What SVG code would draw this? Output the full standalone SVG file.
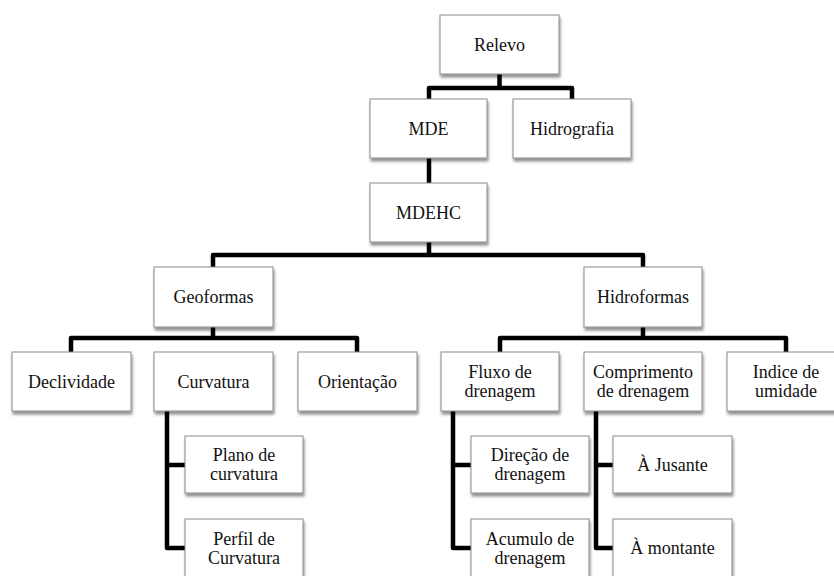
<svg xmlns="http://www.w3.org/2000/svg" width="834" height="576" viewBox="0 0 834 576">
<defs>
<filter id="sh" x="-10%" y="-10%" width="130%" height="140%">
<feGaussianBlur in="SourceAlpha" stdDeviation="1.5"/>
<feOffset dx="1" dy="2.5" result="b"/>
<feComponentTransfer><feFuncA type="linear" slope="0.45"/></feComponentTransfer>
<feMerge><feMergeNode/><feMergeNode in="SourceGraphic"/></feMerge>
</filter>
</defs>
<style>
.box{fill:#fff;stroke:#8a8a8a;stroke-width:1;filter:url(#sh)}
.t{font-family:"Liberation Serif","Times New Roman",serif;font-size:18px;fill:#111;text-anchor:middle}
.c{fill:none;stroke:#000;stroke-width:4.5;stroke-linejoin:round;stroke-linecap:butt}
</style>
<rect width="834" height="576" fill="#fff"/>
<g id="connectors">
<path class="c" d="M499.5,74 V88 M429,99 V88 H572 V99"/>
<path class="c" d="M429,158 V183"/>
<path class="c" d="M429,242 V255 M213,267 V255 H643 V267"/>
<path class="c" d="M213,327 V338 M71,352 V338 H357 V352"/>
<path class="c" d="M643,327 V338 M500,352 V338 H786 V352"/>
<path class="c" d="M167,411 V548 H185 M167,465 H185"/>
<path class="c" d="M453,411 V548 H471 M453,465 H471"/>
<path class="c" d="M596,411 V548 H613 M596,465 H613"/>
</g>
<g id="relevo"><rect class="box" x="440" y="15" width="119" height="59"/><text class="t" x="499.5" y="51">Relevo</text></g>
<g id="mde"><rect class="box" x="370" y="99" width="117" height="59"/><text class="t" x="428.5" y="135">MDE</text></g>
<g id="hidrografia"><rect class="box" x="513" y="99" width="118" height="59"/><text class="t" x="572" y="135">Hidrografia</text></g>
<g id="mdehc"><rect class="box" x="370" y="183" width="117" height="59"/><text class="t" x="428.5" y="219">MDEHC</text></g>
<g id="geoformas"><rect class="box" x="154" y="267" width="119" height="60"/><text class="t" x="213.5" y="303">Geoformas</text></g>
<g id="hidroformas"><rect class="box" x="584" y="267" width="118" height="60"/><text class="t" x="643" y="303">Hidroformas</text></g>
<g id="declividade"><rect class="box" x="12" y="352" width="119" height="59"/><text class="t" x="71.5" y="388">Declividade</text></g>
<g id="curvatura"><rect class="box" x="154" y="352" width="119" height="59"/><text class="t" x="213.5" y="388">Curvatura</text></g>
<g id="orientacao"><rect class="box" x="298" y="352" width="119" height="59"/><text class="t" x="357.5" y="388">Orientação</text></g>
<g id="fluxo"><rect class="box" x="441" y="352" width="118" height="59"/><text class="t" x="500" y="378">Fluxo de</text><text class="t" x="500" y="397">drenagem</text></g>
<g id="comprimento"><rect class="box" x="584" y="352" width="118" height="59"/><text class="t" x="643" y="378">Comprimento</text><text class="t" x="643" y="397">de drenagem</text></g>
<g id="indice"><rect class="box" x="727" y="352" width="118" height="59"/><text class="t" x="786" y="378">Indice de</text><text class="t" x="786" y="397">umidade</text></g>
<g id="plano"><rect class="box" x="185" y="436" width="118" height="57"/><text class="t" x="244" y="461">Plano de</text><text class="t" x="244" y="480">curvatura</text></g>
<g id="perfil"><rect class="box" x="185" y="519" width="118" height="60"/><text class="t" x="244" y="545">Perfil de</text><text class="t" x="244" y="564">Curvatura</text></g>
<g id="direcao"><rect class="box" x="471" y="436" width="118" height="57"/><text class="t" x="530" y="461">Direção de</text><text class="t" x="530" y="480">drenagem</text></g>
<g id="acumulo"><rect class="box" x="471" y="519" width="118" height="60"/><text class="t" x="530" y="545">Acumulo de</text><text class="t" x="530" y="564">drenagem</text></g>
<g id="jusante"><rect class="box" x="613" y="436" width="119" height="57"/><text class="t" x="672.5" y="471">À Jusante</text></g>
<g id="montante"><rect class="box" x="613" y="519" width="119" height="60"/><text class="t" x="672.5" y="554">À montante</text></g>
</svg>
